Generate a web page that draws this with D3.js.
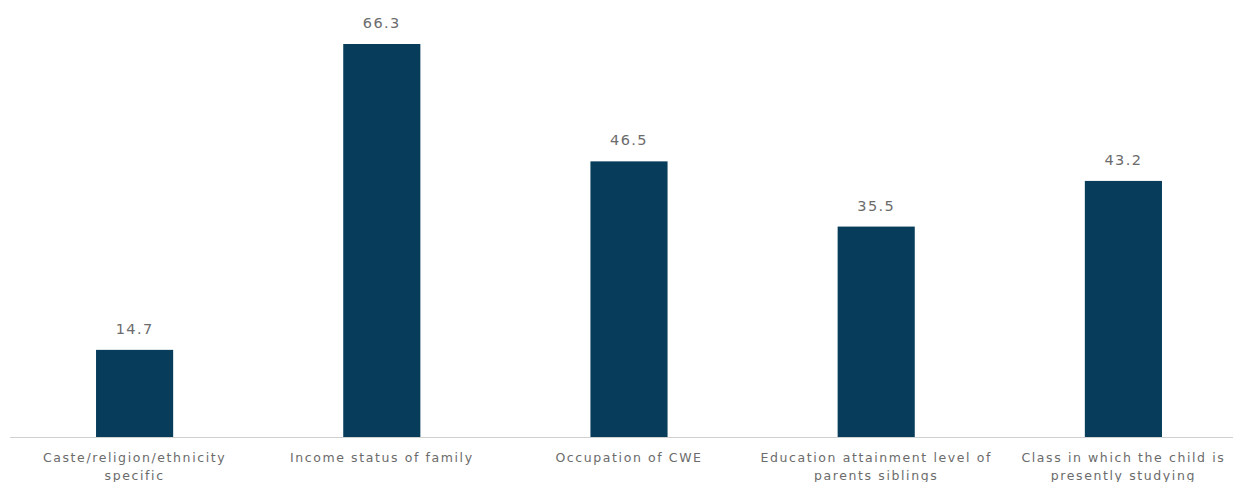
<!DOCTYPE html>
<html>
<head>
<meta charset="utf-8">
<script src="https://cdn.jsdelivr.net/npm/d3@7"></script>
<style>
  body { margin: 0; background: #fff; }
  svg { display: block; }
</style>
</head>
<body>
<div id="chart"></div>
<script>
// data
const categories = [
  ["Caste/religion/ethnicity", "specific"],
  ["Income status of family"],
  ["Occupation of CWE"],
  ["Education attainment level of", "parents siblings"],
  ["Class in which the child is", "presently studying"]
];
const values = [14.7, 66.3, 46.5, 35.5, 43.2];

const width = 1234, height = 482;
const baseY = 437;

const svg = d3.select("#chart")
  .append("svg")
  .attr("width", width)
  .attr("height", height);

const x = d3.scaleBand()
  .domain(d3.range(values.length))
  .range([11, 1247])
  .paddingInner(0.688)
  .paddingOuter(0.344);

const y = d3.scaleLinear()
  .domain([0, 66.3])
  .range([baseY, 44]);

// bars
svg.selectAll(".bar")
  .data(values)
  .join("rect")
  .attr("class", "bar")
  .attr("x", (d, i) => x(i))
  .attr("y", d => y(d))
  .attr("width", x.bandwidth())
  .attr("height", d => baseY - y(d))
  .attr("fill", "#073d5b");

// baseline
svg.append("line")
  .attr("x1", 10)
  .attr("x2", 1233)
  .attr("y1", baseY + 0.5)
  .attr("y2", baseY + 0.5)
  .attr("stroke", "#d0d0d0")
  .attr("stroke-width", 1);

// value labels
svg.selectAll(".val")
  .data(values)
  .join("text")
  .attr("class", "val")
  .attr("x", (d, i) => x(i) + x.bandwidth() / 2)
  .attr("y", d => y(d) - 16)
  .attr("text-anchor", "middle")
  .style("font-family", "DejaVu Sans")
  .style("font-size", "14.5px")
  .style("letter-spacing", "1.4px")
  .style("fill", "#6b6b6b")
  .text(d => d.toFixed(1));

// category labels
const lab = svg.selectAll(".cat")
  .data(categories)
  .join("text")
  .attr("class", "cat")
  .attr("text-anchor", "middle")
  .style("font-family", "DejaVu Sans")
  .style("font-size", "12.5px")
  .style("letter-spacing", "1.6px")
  .style("fill", "#6b6b6b");

lab.each(function (lines, i) {
  const t = d3.select(this);
  lines.forEach((s, j) => {
    t.append("tspan")
      .attr("x", x(i) + x.bandwidth() / 2)
      .attr("y", 462 + j * 18)
      .text(s);
  });
});
</script>
</body>
</html>
